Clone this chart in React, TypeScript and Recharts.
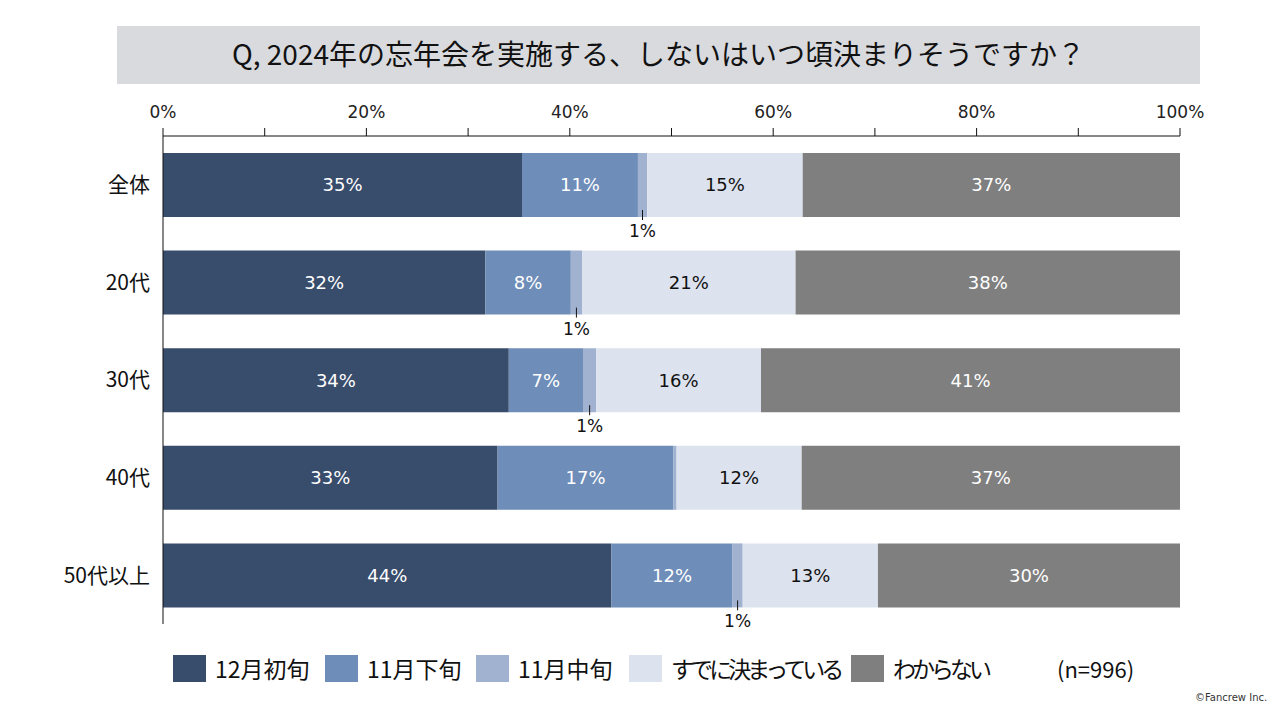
import React from 'react';
import { BarChart, Bar, XAxis, YAxis, LabelList } from 'recharts';

const categories = ['全体', '20代', '30代', '40代', '50代以上'];
const seriesNames = ['12月初旬', '11月下旬', '11月中旬', 'すでに決まっている', 'わからない'];
const earlyDec = [35.3, 31.7, 34.0, 32.9, 44.1];
const lateNov = [11.4, 8.4, 7.3, 17.3, 11.9];
const midNov = [0.9, 1.1, 1.3, 0.3, 1.0];
const decided = [15.3, 21.0, 16.2, 12.3, 13.3];
const unknown = [37.1, 37.8, 41.2, 37.2, 29.7];
const xTicks = [0, 10, 20, 30, 40, 50, 60, 70, 80, 90, 100];
const title = 'Q, 2024年の忘年会を実施する、しないはいつ頃決まりそうですか？';
const sampleNote = '(n=996)';
const credit = '©Fancrew Inc.';

const colors = ['#384C6C', '#6E8DB8', '#A0B2D0', '#DDE3EE', '#7F7F7F'];
const labelColors = ['#ffffff', '#ffffff', '#111111', '#111111', '#ffffff'];
const keys = ['s0', 's1', 's2', 's3', 's4'];
const seriesValues = [earlyDec, lateNov, midNov, decided, unknown];

const data = categories.map((name, i) => {
  const row: any = { name };
  keys.forEach((k, j) => {
    row[k] = seriesValues[j][i];
  });
  return row;
});

const NUM_FONT = "'DejaVu Sans', 'Noto Sans CJK JP', sans-serif";
const JP_FONT = "'Noto Sans CJK JP', 'DejaVu Sans', sans-serif";

const fmt = (v: any) => `${Math.round(Number(v))}%`;

const LeaderLabel = (props: any) => {
  const x = Number(props.x);
  const y = Number(props.y);
  const w = Number(props.width);
  const h = Number(props.height);
  const v = Number(props.value);
  if (!isFinite(x) || Math.round(v) === 0) return null;
  const cx = x + w / 2;
  const bottom = y + h;
  return (
    <g>
      <line x1={cx} y1={bottom - 7} x2={cx} y2={bottom + 3} stroke="#111" strokeWidth={1} />
      <text
        x={cx}
        y={bottom + 14}
        textAnchor="middle"
        dominantBaseline="central"
        fontSize={17}
        style={{ fontFamily: NUM_FONT }}
        fill="#111"
      >
        {fmt(v)}
      </text>
    </g>
  );
};

const legendX = [173, 325, 476, 629, 851];
const legendSpacing = [0, 0, 0, -4, -4];

export default function App() {
  return (
    <div
      style={{
        position: 'absolute',
        left: 0,
        top: 0,
        width: 1280,
        height: 720,
        background: '#ffffff',
        fontFamily: JP_FONT,
        overflow: 'hidden',
      }}
    >
      <div
        style={{
          position: 'absolute',
          left: 117,
          top: 26,
          width: 1083,
          height: 58,
          background: '#D9DADE',
          display: 'flex',
          alignItems: 'center',
          justifyContent: 'center',
          fontSize: 28,
          color: '#111',
          fontFamily: JP_FONT,
          whiteSpace: 'nowrap',
        }}
      >
        <span style={{ position: 'relative', top: -2 }}>{title}</span>
      </div>
      <div style={{ position: 'absolute', left: 0, top: 0 }}>
        <BarChart
          width={1280}
          height={720}
          data={data}
          layout="vertical"
          margin={{ top: 96, right: 100, bottom: 96, left: 0 }}
          barCategoryGap={0}
        >
          <XAxis
            type="number"
            orientation="top"
            domain={[0, 100]}
            ticks={xTicks}
            interval={0}
            height={40}
            tickSize={8}
            tickMargin={10}
            tickFormatter={(v: number) => (v % 20 === 0 ? `${v}%` : '')}
            tick={{ fontSize: 17, fill: '#222', style: { fontFamily: NUM_FONT } }}
            axisLine={{ stroke: '#111' }}
            tickLine={{ stroke: '#111' }}
          />
          <YAxis
            type="category"
            dataKey="name"
            width={163}
            tickLine={false}
            tickMargin={7}
            axisLine={{ stroke: '#111' }}
            tick={{ fontSize: 21, fill: '#111', style: { fontFamily: JP_FONT } }}
          />
          {keys.map((k, j) => (
            <Bar
              key={k}
              dataKey={k}
              name={seriesNames[j]}
              stackId="a"
              fill={colors[j]}
              barSize={64}
              isAnimationActive={false}
            >
              {j === 2 ? (
                <LabelList dataKey={k} content={<LeaderLabel />} />
              ) : (
                <LabelList
                  dataKey={k}
                  position="center"
                  formatter={fmt}
                  fill={labelColors[j]}
                  fontSize={18}
                  style={{ fontFamily: NUM_FONT }}
                />
              )}
            </Bar>
          ))}
        </BarChart>
      </div>
      {seriesNames.map((s, j) => (
        <div
          key={s}
          style={{
            position: 'absolute',
            left: legendX[j],
            top: 655,
            height: 27,
            display: 'flex',
            alignItems: 'center',
            whiteSpace: 'nowrap',
          }}
        >
          <div style={{ width: 33, height: 27, background: colors[j], marginRight: 9 }} />
          <span
            style={{
              fontSize: 23,
              color: '#111',
              lineHeight: '27px',
              letterSpacing: legendSpacing[j],
            }}
          >
            {s}
          </span>
        </div>
      ))}
      <div
        style={{
          position: 'absolute',
          left: 1057,
          top: 655,
          height: 27,
          lineHeight: '27px',
          fontSize: 22,
          color: '#111',
          whiteSpace: 'nowrap',
        }}
      >
        {sampleNote}
      </div>
      <div
        style={{
          position: 'absolute',
          left: 1195,
          top: 692,
          fontSize: 10,
          color: '#333',
          whiteSpace: 'nowrap',
          fontFamily: "'DejaVu Sans', sans-serif",
        }}
      >
        {credit}
      </div>
    </div>
  );
}
